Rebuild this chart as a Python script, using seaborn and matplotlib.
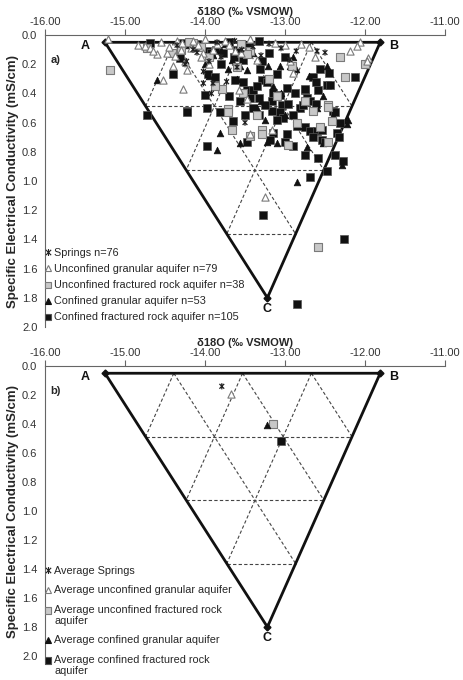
import numpy as np
import pandas as pd
import matplotlib
matplotlib.use("Agg")
import matplotlib.pyplot as plt
from matplotlib.path import Path
from matplotlib.lines import Line2D
import seaborn as sns

sns.set_style("white")
plt.rcParams['font.family'] = ['Liberation Sans', 'DejaVu Sans']

# triangle vertices A, B, C  (d18O, SEC)
tri_x = [-15.25, -11.81, -13.22]
tri_y = [0.05, 0.05, 1.80]
tri_names = ["A", "B", "C"]
n_div = 4

# panel a: individual samples
springs_x = [-14.23, -13.63, -13.54, -12.86, -12.94, -14.02, -14.02, -13.92, -12.50, -13.50, -13.90, -13.73,
             -14.25, -12.60, -13.40, -13.80, -14.10, -13.20, -13.05, -13.60, -14.35, -13.85, -13.30, -13.95, -14.15]
springs_y = [0.18, 0.04, 0.10, 0.11, 0.17, 0.25, 0.33, 0.40, 0.12, 0.60, 0.33, 0.32,
             0.20, 0.11, 0.08, 0.15, 0.12, 0.06, 0.09, 0.22, 0.07, 0.05, 0.14, 0.18, 0.10]

ug_x = [-15.21, -14.84, -14.75, -14.69, -14.60, -14.65, -14.52, -14.27, -14.40, -14.35, -14.29, -14.47, -14.37,
        -14.22, -14.25, -14.15, -14.09, -14.00, -13.44, -13.13, -13.00, -13.63, -12.94, -14.02, -12.06, -12.10,
        -12.19, -11.96, -11.98, -12.63, -13.44, -13.16, -13.25, -14.55, -14.45, -13.85, -13.75, -13.55, -13.35,
        -12.80, -14.18, -13.95, -13.70, -13.90, -14.05, -13.58, -13.48, -12.70, -12.90, -14.30]
ug_y = [0.03, 0.07, 0.075, 0.09, 0.13, 0.11, 0.31, 0.37, 0.21, 0.04, 0.055, 0.12, 0.145,
        0.24, 0.18, 0.04, 0.07, 0.03, 0.03, 0.055, 0.07, 0.11, 0.18, 0.12, 0.05, 0.075,
        0.11, 0.16, 0.18, 0.15, 0.68, 0.65, 1.11, 0.05, 0.08, 0.06, 0.04, 0.12, 0.17,
        0.06, 0.09, 0.20, 0.07, 0.10, 0.15, 0.38, 0.44, 0.08, 0.26, 0.10]

uf_x = [-15.19, -14.72, -14.41, -14.15, -13.44, -13.48, -13.79, -13.87, -13.52, -12.91, -13.71, -12.31, -12.00,
        -12.25, -12.46, -13.66, -13.29, -13.29, -12.96, -12.41, -12.56, -12.46, -13.71, -12.46, -12.59, -13.44,
        -14.05, -13.60, -13.20, -12.75, -13.95, -13.35, -12.85, -14.30, -13.10, -12.65, -13.55, -14.20]
uf_y = [0.24, 0.09, 0.12, 0.055, 0.11, 0.13, 0.37, 0.35, 0.40, 0.21, 0.51, 0.15, 0.20,
        0.29, 0.48, 0.65, 0.65, 0.68, 0.75, 0.59, 0.63, 0.73, 0.53, 0.49, 1.45, 0.69,
        0.08, 0.22, 0.30, 0.45, 0.15, 0.55, 0.60, 0.10, 0.42, 0.52, 0.06, 0.05]

cg_x = [-14.60, -13.56, -13.71, -13.66, -13.48, -13.21, -13.06, -12.94, -12.86, -12.48, -12.52, -13.81, -13.85,
        -13.56, -13.23, -13.10, -12.99, -12.85, -12.73, -12.29, -12.21, -12.23, -12.52, -13.00, -13.35, -13.80,
        -14.10, -13.90, -13.40, -13.15, -12.70, -12.60, -13.60, -13.30, -13.05, -12.80, -14.00, -13.75, -13.45,
        -12.40, -14.20, -13.95, -13.25, -12.90]
cg_y = [0.31, 0.21, 0.23, 0.17, 0.24, 0.21, 0.21, 0.21, 0.23, 0.21, 0.42, 0.67, 0.79,
        0.74, 0.73, 0.74, 0.73, 1.01, 0.77, 0.89, 0.58, 0.61, 0.74, 0.55, 0.50, 0.10,
        0.08, 0.14, 0.12, 0.35, 0.28, 0.50, 0.30, 0.45, 0.40, 0.62, 0.20, 0.06, 0.09,
        0.55, 0.07, 0.28, 0.58, 0.15]

cf_x = [-14.69, -14.40, -14.22, -14.27, -14.31, -13.98, -13.92, -13.86, -13.77, -13.96, -14.00, -13.87, -13.62,
        -13.52, -13.48, -13.44, -13.31, -13.29, -13.33, -13.23, -13.15, -13.06, -12.98, -13.10, -13.04, -13.16,
        -12.96, -12.81, -12.75, -13.40, -13.33, -13.56, -13.98, -13.64, -13.52, -13.29, -12.12, -12.56, -12.65,
        -12.61, -12.48, -12.44, -12.75, -12.59, -12.73, -12.69, -12.61, -12.77, -12.40, -13.33, -13.16, -13.06,
        -13.02, -13.47, -13.15, -12.98, -13.00, -12.90, -12.75, -12.69, -12.60, -12.65, -12.54, -12.75, -12.59,
        -12.69, -13.65, -13.19, -14.73, -14.23, -13.98, -13.81, -12.37, -12.31, -12.35, -12.33, -12.50, -12.54,
        -12.37, -12.27, -12.48, -13.27, -12.26, -12.85, -14.10, -13.70, -13.80, -13.60, -13.45, -13.20, -13.00,
        -13.40, -13.25, -13.10, -12.90, -12.85, -13.50, -13.70, -12.88, -13.35, -12.45]
cf_y = [0.055, 0.27, 0.52, 0.055, 0.16, 0.11, 0.12, 0.10, 0.12, 0.27, 0.41, 0.29, 0.31,
        0.32, 0.38, 0.43, 0.23, 0.31, 0.04, 0.32, 0.40, 0.41, 0.36, 0.27, 0.48, 0.45,
        0.47, 0.50, 0.38, 0.38, 0.43, 0.45, 0.50, 0.15, 0.17, 0.18, 0.29, 0.23, 0.29,
        0.32, 0.34, 0.34, 0.37, 0.38, 0.43, 0.45, 0.47, 0.48, 0.52, 0.55, 0.52, 0.53,
        0.57, 0.73, 0.67, 0.68, 0.73, 0.76, 0.63, 0.66, 0.66, 0.70, 0.72, 0.82, 0.84,
        0.97, 0.59, 0.72, 0.55, 0.53, 0.76, 0.53, 0.53, 0.60, 0.67, 0.70, 0.73, 0.65,
        0.82, 0.86, 0.93, 1.23, 1.40, 1.84, 0.06, 0.05, 0.20, 0.10, 0.08, 0.12, 0.15,
        0.50, 0.48, 0.58, 0.55, 0.62, 0.55, 0.42, 0.40, 0.35, 0.26]

# panel b: group averages
avg_x = [-13.79, -13.68, -13.15, -13.23, -13.05]
avg_y = [0.14, 0.19, 0.40, 0.41, 0.52]

labels_a = ["Springs n=76", "Unconfined granular aquifer n=79", "Unconfined fractured rock aquifer n=38",
            "Confined granular aquifer n=53", "Confined fractured rock aquifer n=105"]
labels_b = ["Average Springs", "Average unconfined granular aquifer",
            "Average unconfined fractured rock\naquifer", "Average confined granular aquifer",
            "Average confined fractured rock\naquifer"]

# marker styles: springs, unconf granular, unconf fractured, conf granular, conf fractured
star = Path([(-1, -1), (1, 1), (-1, 1), (1, -1), (0, -1.3), (0, 1.3)],
            [Path.MOVETO, Path.LINETO, Path.MOVETO, Path.LINETO, Path.MOVETO, Path.LINETO])
styles = [
    dict(marker=star, facecolor="none", edgecolor="#222222", linewidths=0.9, s=20),
    dict(marker="^", facecolor="white", edgecolor="#7a7a7a", linewidths=0.8, s=27),
    dict(marker="s", facecolor="#c8c8c8", edgecolor="#7a7a7a", linewidths=0.8, s=26),
    dict(marker="^", facecolor="#111111", edgecolor="#111111", linewidths=0.5, s=23),
    dict(marker="s", facecolor="#111111", edgecolor="#555555", linewidths=0.5, s=26),
]

# square raised to the first line of a two-line legend label
raised_square = Path([(-0.5, 0.36), (0.5, 0.36), (0.5, 1.36), (-0.5, 1.36), (-0.5, 0.36)],
                     [Path.MOVETO, Path.LINETO, Path.LINETO, Path.LINETO, Path.CLOSEPOLY])


def draw_triangle(ax):
    V = np.array([tri_x, tri_y]).T
    A, B, C = V
    # dashed internal grid
    for k in range(1, n_div):
        f = k / n_div
        segs = [(A + (C - A) * f, B + (C - B) * f),
                (A + (B - A) * f, C + (B - C) * f),
                (B + (A - B) * f, C + (A - C) * f)]
        for p, q in segs:
            ax.plot([p[0], q[0]], [p[1], q[1]], color="#444444", lw=0.8, ls=(0, (3, 2)), zorder=1)
    ax.plot(tri_x + [tri_x[0]], tri_y + [tri_y[0]], color="#111111", lw=2, zorder=2)
    ax.plot(tri_x, tri_y, ls="none", marker="D", ms=3.5, color="#111111", zorder=2)
    offs = [(-14, -3), (10, -3), (0, -8)]
    for nm, x, y, o in zip(tri_names, tri_x, tri_y, offs):
        ax.annotate(nm, (x, y), xytext=o, textcoords="offset points", ha="center", va="center",
                    fontsize=9, fontweight="bold", color="#111111")


def style_axis(ax, tag):
    ax.set_xlim(-16, -11)
    ax.set_ylim(2.0, 0.0)
    ax.set_xticks(np.arange(-16, -10.5, 1.0))
    ax.set_xticklabels([f"{v:.2f}" for v in np.arange(-16, -10.5, 1.0)])
    ax.set_yticks(np.arange(0, 2.01, 0.2))
    ax.set_yticklabels([f"{v:.1f}" for v in np.arange(0, 2.01, 0.2)])
    ax.xaxis.tick_top()
    ax.xaxis.set_label_position("top")
    for s in ["right", "bottom"]:
        ax.spines[s].set_visible(False)
    for s in ["left", "top"]:
        ax.spines[s].set_color("#666666")
        ax.spines[s].set_linewidth(0.8)
    ax.tick_params(axis="both", direction="out", length=4, width=0.8, color="#666666",
                   labelsize=8, labelcolor="#333333", pad=1.5)
    ax.set_xlabel("δ18O (‰ VSMOW)", fontsize=8, fontweight="bold", labelpad=2)
    ax.set_ylabel("Specific Electrical Conductivity (mS/cm)", fontsize=9.5, fontweight="bold", labelpad=2)
    ax.text(-15.93, 0.17, tag, fontsize=8, fontweight="bold", va="center")


def legend_handles(labels):
    hs = []
    for st, lab in zip(styles, labels):
        mk, ms = st["marker"], 5
        if "\n" in lab:
            mk, ms = raised_square, 13.6
        hs.append(Line2D([], [], ls="none", marker=mk, markersize=ms,
                         markerfacecolor=st["facecolor"], markeredgecolor=st["edgecolor"],
                         markeredgewidth=0.8, label=lab))
    return hs


fig = plt.figure(figsize=(4.63, 6.8), dpi=100)
ax1 = fig.add_axes([45 / 463, 1 - 327 / 680, 400 / 463, 292 / 680])
ax2 = fig.add_axes([45 / 463, 1 - 656 / 680, 400 / 463, 290 / 680])

# panel a
draw_triangle(ax1)
groups = [(springs_x, springs_y), (ug_x, ug_y), (uf_x, uf_y), (cg_x, cg_y), (cf_x, cf_y)]
for order in [4, 3, 2, 1, 0]:
    gx, gy = groups[order]
    sns.scatterplot(x=gx, y=gy, ax=ax1, legend=False, zorder=3, **styles[order])
style_axis(ax1, "a)")
ax1.legend(handles=legend_handles(labels_a), loc="upper left", bbox_to_anchor=(0.0, 0.27),
           frameon=False, fontsize=7.8, handlelength=0.6, handletextpad=0.25, labelspacing=0.56,
           borderpad=0, borderaxespad=0)

# panel b
draw_triangle(ax2)
for i in range(len(avg_x)):
    sns.scatterplot(x=[avg_x[i]], y=[avg_y[i]], ax=ax2, legend=False, zorder=3, **styles[i])
style_axis(ax2, "b)")
ax2.legend(handles=legend_handles(labels_b), loc="upper left", bbox_to_anchor=(0.0, 0.31),
           frameon=False, fontsize=7.8, handlelength=0.6, handletextpad=0.25, labelspacing=0.85,
           borderpad=0, borderaxespad=0)

fig.savefig("out.png", dpi=100)
